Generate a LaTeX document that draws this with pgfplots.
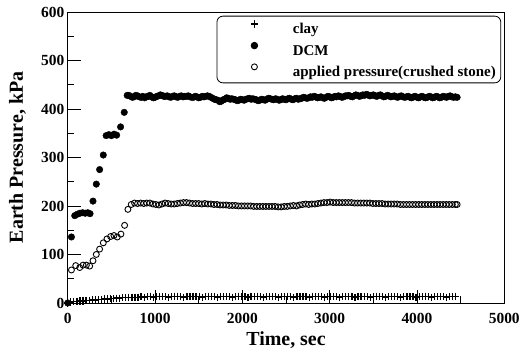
\documentclass[border=0pt]{standalone}
\usepackage{fontspec}
\setmainfont{Liberation Serif}
\usepackage{pgfplots}
\pgfplotsset{compat=1.18}
\begin{document}
\begin{tikzpicture}
\begin{axis}[
 name=ax, at={(0,0)}, anchor=south west,
 scale only axis, width=438bp, height=292bp,
 xmin=0, xmax=5000, ymin=0, ymax=600,
 xtick={0,1000,...,5000}, ytick={0,100,...,600},
 xticklabels={0,1000,2000,3000,4000,5000},
 yticklabels={0,100,200,300,400,500,600},
 minor x tick num=1, minor y tick num=1,
 xtick pos=bottom, ytick pos=left, tick align=inside,
 major tick length=13bp, minor tick length=6.5bp,
 axis line style={line width=0.8bp},
 every tick/.style={line width=0.8bp, black},
 ticklabel style={font=\fontsize{15.5bp}{18bp}\selectfont\bfseries},
 xticklabel style={yshift=-7bp},
 xlabel={Time, sec}, ylabel={Earth Pressure, kPa},
 label style={font=\fontsize{20bp}{24bp}\selectfont\bfseries},
 xlabel style={at={(axis description cs:0.5,0)}, anchor=base, yshift=-42.7bp},
 ylabel style={at={([xshift=-45bp]axis description cs:0,0.5)}, anchor=base},
 legend style={at={(rel axis cs:0.993,0.987)}, anchor=north east, draw=black, line width=0.8bp,
   /tikz/rounded corners=6bp, inner xsep=5bp, inner ysep=4.3bp, row sep=6.6bp,
   font=\fontsize{15bp}{18bp}\selectfont\bfseries,
   nodes={inner sep=0pt, text height=11.5bp, text depth=2bp, sharp corners}},
 legend cell align=left,
 legend image code/.code={\path (-32bp,0) (38bp,0); \draw[#1] plot coordinates {(0bp,5bp)};},
]
\addplot[only marks, mark=+, mark size=3.6bp, black, line width=1.2bp] coordinates {
(0,0) (35,2) (70,3) (105,3) (140,4) (175,4) (210,5) (245,5) (280,6) (315,6) (350,7) (385,7)
(420,8) (455,8) (490,9) (525,9) (560,10) (595,10) (630,11) (665,11) (700,12) (735,12)
(770,12) (805,12) (840,13) (875,12) (910,13) (945,13) (980,12) (1015,13) (1050,13) (1085,13)
(1120,13) (1155,12) (1190,13) (1225,13) (1260,13) (1295,13) (1330,12) (1365,13) (1400,13)
(1435,13) (1470,13) (1505,13) (1540,12) (1575,13) (1610,13) (1645,13) (1680,13) (1715,12)
(1750,13) (1785,13) (1820,13) (1855,13) (1890,12) (1925,13) (1960,13) (1995,13) (2030,13)
(2065,12) (2100,13) (2135,13) (2170,13) (2205,13) (2240,12) (2275,13) (2310,13) (2345,13)
(2380,13) (2415,12) (2450,13) (2485,13) (2520,13) (2555,13) (2590,12) (2625,13) (2660,13)
(2695,13) (2730,13) (2765,12) (2800,13) (2835,13) (2870,13) (2905,13) (2940,12) (2975,13)
(3010,13) (3045,13) (3080,13) (3115,12) (3150,13) (3185,13) (3220,13) (3255,13) (3290,12)
(3325,13) (3360,13) (3395,13) (3430,13) (3465,12) (3500,13) (3535,13) (3570,13) (3605,13)
(3640,12) (3675,13) (3710,13) (3745,13) (3780,13) (3815,12) (3850,13) (3885,13) (3920,13)
(3955,13) (3990,12) (4025,13) (4060,13) (4095,13) (4130,13) (4165,12) (4200,13) (4235,13)
(4270,13) (4305,13) (4340,12) (4375,13) (4410,13) (4445,13)
};
\addlegendentry{clay}
\addplot[only marks, mark=*, mark size=3.3bp, black] coordinates {
(0,0) (42,136) (80,180) (110,183) (140,185) (170,186) (200,185) (230,186) (255,184)
(289,210) (327,245) (365,275) (407,305) (440,345) (470,347) (500,345) (530,348) (560,346)
(605,363) (647,393) (681,428)
(700,428) (720,426) (740,424) (760,425) (780,428) (800,427) (820,425) (840,424) (860,426)
(880,423) (900,425) (920,426) (940,428) (960,425) (980,423) (1000,424) (1020,426) (1040,427)
(1060,429) (1080,428) (1100,426) (1120,426) (1140,427) (1160,425) (1180,424) (1200,426)
(1220,427) (1240,425) (1260,424) (1280,426) (1300,427) (1320,425) (1340,426) (1360,426)
(1380,427) (1400,425) (1420,424) (1440,424) (1460,426) (1480,425) (1500,423) (1520,424)
(1540,426) (1560,425) (1580,426) (1600,427) (1620,426) (1640,424) (1660,422) (1680,420)
(1700,419) (1720,418) (1740,415) (1760,416) (1780,419) (1800,420) (1820,423) (1840,422)
(1860,420) (1880,421) (1900,420) (1920,419) (1940,417) (1960,418) (1980,420) (2000,419)
(2020,418) (2040,420) (2060,421) (2080,422) (2100,420) (2120,421) (2140,420) (2160,419)
(2180,417) (2200,418) (2220,420) (2240,419) (2260,418) (2280,420) (2300,422) (2320,421)
(2340,420) (2360,419) (2380,421) (2400,420) (2420,418) (2440,419) (2460,421) (2480,420)
(2500,419) (2520,421) (2540,422) (2560,420) (2580,419) (2600,421) (2620,422) (2640,420)
(2660,421) (2680,422) (2700,424) (2720,423) (2740,422) (2760,423) (2780,425) (2800,424)
(2820,426) (2840,425) (2860,423) (2880,424) (2900,425) (2920,423) (2940,422) (2960,424)
(2980,426) (3000,425) (3020,423) (3040,424) (3060,426) (3080,425) (3100,427) (3120,426)
(3140,424) (3160,425) (3180,427) (3200,427) (3220,428) (3240,426) (3260,425) (3280,427)
(3300,429) (3320,428) (3340,426) (3360,427) (3380,429) (3400,428) (3420,430) (3440,429)
(3460,427) (3480,428) (3500,429) (3520,427) (3540,426) (3560,428) (3580,429) (3600,427)
(3620,425) (3640,426) (3660,428) (3680,427) (3700,425) (3720,426) (3740,427) (3760,425)
(3780,424) (3800,426) (3820,427) (3840,425) (3860,424) (3880,425) (3900,426) (3920,424)
(3940,423) (3960,425) (3980,426) (4000,424) (4020,423) (4040,425) (4060,426) (4080,424)
(4100,423) (4120,424) (4140,426) (4160,425) (4180,423) (4200,424) (4220,426) (4240,425)
(4260,423) (4280,424) (4300,426) (4320,425) (4340,424) (4360,426) (4380,427) (4400,425)
(4420,424) (4440,425) (4460,424)
};
\addlegendentry{DCM}
\addplot[only marks, mark=o, mark size=3bp, black, line width=0.9bp] coordinates {
(42,68) (91,77) (137,73) (175,78) (213,78) (251,76) (289,87) (327,100) (365,111) (407,124)
(449,132) (491,137) (529,139) (567,136) (609,142) (651,160) (689,193) (727,203) (765,206)
(800,205) (835,206) (870,205) (905,206) (940,206) (975,204) (1010,203) (1045,202) (1080,204)
(1115,206) (1150,205) (1185,204) (1220,204) (1255,205) (1290,206) (1325,207) (1360,207)
(1395,206) (1430,205) (1465,205) (1500,205) (1535,204) (1570,205) (1605,204) (1640,204)
(1675,203) (1710,203) (1745,202) (1780,202) (1815,202) (1850,201) (1885,201) (1920,201)
(1955,200) (1990,200) (2025,200) (2060,200) (2095,200) (2130,199) (2165,199) (2200,199)
(2235,199) (2270,199) (2305,199) (2340,199) (2375,199) (2410,198) (2445,198) (2480,199)
(2515,199) (2550,200) (2585,201) (2620,200) (2655,202) (2690,203) (2725,204) (2760,203)
(2795,204) (2830,204) (2865,205) (2900,206) (2935,207) (2970,207) (3005,208) (3040,207)
(3075,207) (3110,207) (3145,207) (3180,207) (3215,207) (3250,207) (3285,206) (3320,206)
(3355,206) (3390,206) (3425,206) (3460,206) (3495,205) (3530,205) (3565,205) (3600,205)
(3635,204) (3670,204) (3705,204) (3740,204) (3775,204) (3810,203) (3845,203) (3880,203)
(3915,203) (3950,203) (3985,203) (4020,203) (4055,203) (4090,203) (4125,203) (4160,203)
(4195,203) (4230,203) (4265,203) (4300,203) (4335,203) (4370,203) (4405,203) (4440,203)
(4460,203)
};
\addlegendentry{applied pressure(crushed stone)}
\end{axis}
\path ([xshift=-68bp,yshift=-48bp]ax.south west) rectangle ([xshift=17bp,yshift=12bp]ax.north east);
\end{tikzpicture}
\end{document}
